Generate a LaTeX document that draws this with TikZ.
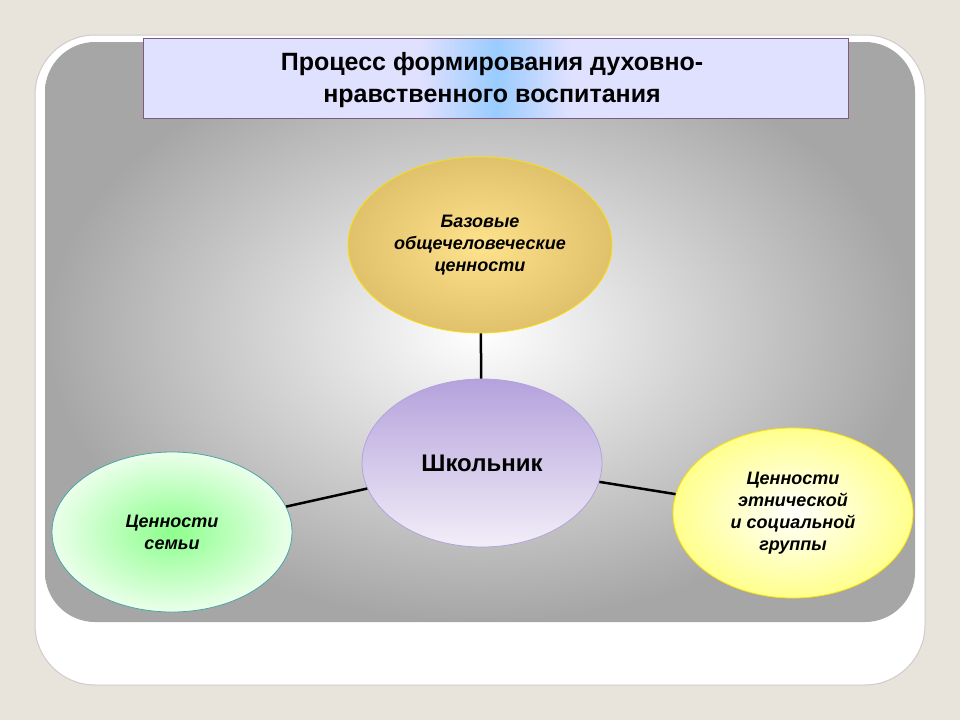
\documentclass[tikz,border=0pt]{standalone}
\usepackage{fontspec}
\setmainfont{Liberation Sans}
\usetikzlibrary{shapes.geometric}
\definecolor{bg}{HTML}{E8E3DB}
\definecolor{lav}{HTML}{B4A2DC}
\definecolor{lavl}{HTML}{F2EEF8}
\tikzset{
 ell/.style={ellipse,draw,line width=0.8pt,inner sep=0pt,align=center,font=\bfseries\itshape\fontsize{18}{22}\selectfont},
 conn/.style={line width=2.5pt,black}
}
\begin{document}
\begin{tikzpicture}[x=1pt,y=-1pt]
\fill[bg] (0,0) rectangle (960,720);
\useasboundingbox (0,0) rectangle (960,720);
\draw[gray!40,line width=1pt,fill=white,rounded corners=60] (35,35) rectangle (925,685);
\shade[inner color=white,outer color=gray!70,rounded corners=50] (45,42) rectangle (915,622);
% title
\shade[left color=blue!12!white,right color=blue!12!white] (143,38) rectangle (420,118);
\shade[left color=blue!12!white,right color=blue!50!cyan!40] (420,38) rectangle (496,118);
\shade[left color=blue!50!cyan!40,right color=blue!12!white] (496,38) rectangle (570,118);
\shade[left color=blue!12!white,right color=blue!12!white] (570,38) rectangle (848,118);
\draw[gray!70!violet,line width=1pt] (143,38) rectangle (848,118);
\node[font=\bfseries\fontsize{25}{32}\selectfont,align=center] (title) at (492,80) {Процесс формирования духовно-\\нравственного воспитания};
% ellipses
\node[ell,minimum width=264,minimum height=176,draw=yellow!80!orange,inner color=yellow!50!orange!45,outer color=brown!70!yellow!70] (top) at (480,245) {Базовые\\общечеловеческие\\ценности};
\node[ell,minimum width=240,minimum height=168,draw=lav,top color=lav,bottom color=lavl,font=\bfseries\fontsize{24}{28}\selectfont] (mid) at (482,463) {Школьник};
\node[ell,minimum width=240,minimum height=160,draw=teal!70,inner color=green!45!white,outer color=green!8] (left) at (172,532) {Ценности\\семьи};
\node[ell,minimum width=240,minimum height=170,draw=yellow!85!orange,inner color=white,outer color=yellow!45] (right) at (793,513) {Ценности\\этнической\\и социальной\\группы};
\draw[conn] (top) -- (mid);
\draw[conn] (left) -- (mid);
\draw[conn] (mid) -- (right);
\end{tikzpicture}
\end{document}
